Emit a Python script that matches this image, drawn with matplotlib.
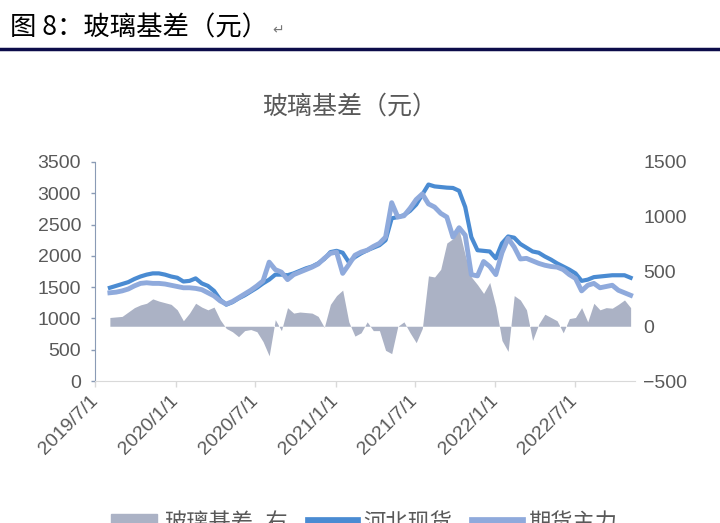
#glass basis chart: Hebei spot vs futures main contract, basis on right axis
import pandas as pd
import matplotlib
matplotlib.use("Agg")
import matplotlib.pyplot as plt
from matplotlib.patches import Patch
from matplotlib.lines import Line2D

plt.rcParams['font.family'] = ['Liberation Sans', 'Noto Sans CJK SC', 'DejaVu Sans']

# one reading every 14 days, starting early Aug 2019
dates = pd.date_range('2019-08-04', periods=86, freq='14D')

spot = [1490, 1520, 1550, 1580, 1630, 1670, 1700, 1720, 1720, 1700,
        1670, 1650, 1590, 1600, 1640, 1560, 1520, 1440, 1300, 1220,
        1260, 1320, 1370, 1430, 1490, 1560, 1620, 1700, 1700, 1690,
        1720, 1760, 1800, 1830, 1880, 1950, 2060, 2080, 2050, 1900,
        1980, 2040, 2090, 2130, 2170, 2250, 2600, 2620, 2650, 2720,
        2820, 2980, 3140, 3110, 3100, 3090, 3085, 3040, 2780, 2300,
        2090, 2080, 2070, 1960, 2200, 2310, 2290, 2190, 2130, 2070,
        2050, 1990, 1940, 1880, 1830, 1780, 1720, 1600, 1620, 1660,
        1670, 1680, 1690, 1690, 1690, 1650]

futures = [1410, 1420, 1440, 1470, 1520, 1560, 1570, 1560, 1560, 1550,
           1530, 1510, 1490, 1490, 1480, 1460, 1410, 1360, 1280, 1230,
           1270, 1330, 1390, 1450, 1520, 1600, 1900, 1780, 1740, 1620,
           1700, 1740, 1780, 1820, 1870, 1960, 2040, 2060, 1720, 1860,
           2010, 2060, 2090, 2150, 2200, 2300, 2850, 2620, 2640, 2760,
           2900, 2990, 2830, 2780, 2680, 2620, 2300, 2450, 2330, 1700,
           1680, 1910, 1830, 1700, 2050, 2280, 2140, 1950, 1960, 1920,
           1880, 1850, 1830, 1820, 1780, 1700, 1640, 1440, 1530, 1560,
           1490, 1510, 1530, 1450, 1410, 1370]

basis = [80, 85, 90, 130, 170, 195, 210, 250, 230, 215,
         200, 150, 50, 120, 210, 175, 150, 175, 60, -20,
         -50, -95, -40, -30, -50, -140, -270, 60, -40, 170,
         120, 130, 125, 120, 90, -10, 200, 280, 330, 40,
         -90, -60, 40, -40, -40, -220, -250, 0, 40, -60,
         -150, -20, 460, 450, 520, 760, 800, 880, 650, 450,
         380, 300, 400, 180, -130, -230, 280, 240, 150, -130,
         20, 110, 80, 50, -60, 70, 80, 170, 40, 210,
         150, 170, 165, 200, 240, 170]

tick_dates = pd.to_datetime(['2019-07-01', '2020-01-01', '2020-07-01', '2021-01-01',
                             '2021-07-01', '2022-01-01', '2022-07-01'])
tick_labels = ['2019/7/1', '2020/1/1', '2020/7/1', '2021/1/1',
               '2021/7/1', '2022/1/1', '2022/7/1']

gray_c = '#abb2c5'
spot_c = '#4a8bd2'
fut_c = '#8faadc'
text_c = '#595959'
cjk = ['Noto Sans CJK SC', 'DejaVu Sans']

fig = plt.figure(figsize=(7.2, 5.23), dpi=100)

# report header and rule line
fig.text(10/720, 1 - 28/523, '图 8：玻璃基差（元）', family=cjk, fontsize=19,
         color='black', va='center', ha='left')
fig.text(272/720, 1 - 30/523, '↵', family=['DejaVu Sans'], fontsize=10,
         color='#777777', va='center', ha='left')
fig.add_artist(Line2D([0, 1], [1 - 49/523, 1 - 49/523], color='#0c0c4a', lw=2.5))

fig.text(350/720, 1 - 107/523, '玻璃基差（元）', family=cjk, fontsize=18,
         color=text_c, va='center', ha='center')

ax = fig.add_axes([95/720, 1 - 381/523, 540/720, 219/523])
ax2 = ax.twinx()
ax.set_zorder(ax2.get_zorder() + 1)
ax.patch.set_visible(False)

ax2.fill_between(dates, 0, basis, color=gray_c, lw=0)
ax.plot(dates, spot, color=spot_c, lw=3)
ax.plot(dates, futures, color=fut_c, lw=3.5)

ax.set_ylim(0, 3500)
ax.set_yticks(range(0, 3501, 500))
ax2.set_ylim(-500, 1500)
ax2.set_yticks(range(-500, 1501, 500))
ax.set_xlim(pd.Timestamp('2019-07-01'), pd.Timestamp('2022-11-16'))
ax.set_xticks(tick_dates)
ax.set_xticklabels(tick_labels, rotation=45, ha='right', va='center', rotation_mode='anchor')

for a in (ax, ax2):
    for s in ('top', 'right', 'left', 'bottom'):
        a.spines[s].set_visible(False)
ax.spines['left'].set_visible(True)
ax.spines['left'].set_color('#8a9bb5')
ax.spines['bottom'].set_visible(True)
ax.spines['bottom'].set_color('#d9d9d9')

ax.tick_params(axis='y', length=3, width=1, color='#8a9bb5', pad=7,
               labelsize=14, labelcolor=text_c)
ax.tick_params(axis='x', length=4, width=1, color='#d9d9d9', pad=8,
               labelsize=14, labelcolor=text_c)
ax2.tick_params(axis='y', length=0, pad=6, labelsize=14, labelcolor=text_c)

# the legend sits at the bottom edge and is clipped, as in the source picture
handles = [Patch(color=gray_c), Line2D([], [], color=spot_c, lw=7),
           Line2D([], [], color=fut_c, lw=7)]
fig.legend(handles, ['玻璃基差_右', '河北现货', '期货主力'], loc='center',
           bbox_to_anchor=(0.505, 0.0), ncol=3, frameon=False,
           prop={'family': cjk, 'size': 16}, handlelength=2.1,
           handletextpad=0.3, columnspacing=1.0, labelcolor=text_c)

fig.savefig('out.png', dpi=100)
